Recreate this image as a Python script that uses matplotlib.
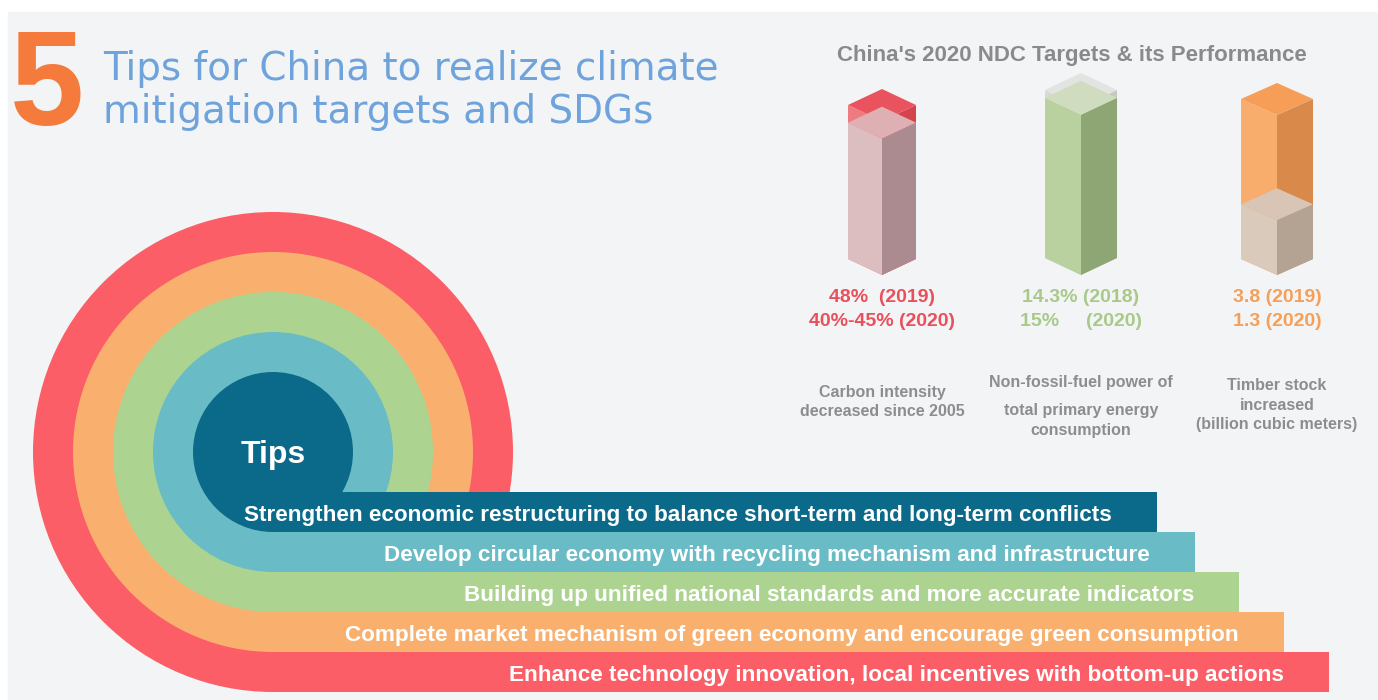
import numpy as np
import matplotlib.pyplot as plt
from matplotlib.patches import Circle, Rectangle, Polygon

# ---- data ----
tips = [
    "Strengthen economic restructuring to balance short-term and long-term conflicts",
    "Develop circular economy with recycling mechanism and infrastructure",
    "Building up unified national standards and more accurate indicators",
    "Complete market mechanism of green economy and encourage green consumption",
    "Enhance technology innovation, local incentives with bottom-up actions",
]
tip_colors = ["#0b6a8a", "#69bcc5", "#acd490", "#f9b06f", "#fb5e66"]

indicators = [
    ["Carbon intensity", "decreased since 2005"],
    ["Non-fossil-fuel power of", "total primary energy", "consumption"],
    ["Timber stock", "increased", "(billion cubic meters)"],
]
high_values = [48, 15, 3.8]      # taller prism
low_values = [42.5, 14.3, 1.3]   # shorter prism (40%-45% -> midpoint)
value_lines = [
    ["48%  (2019)", "40%-45% (2020)"],
    ["14.3% (2018)", "15%     (2020)"],
    ["3.8 (2019)", "1.3 (2020)"],
]
value_colors = ["#e8505b", "#a9c98b", "#f5a05a"]

# prism colours: (top, left, right) for tall and short prisms
tall_cols = [("#e9535d", "#ee7b80", "#d5434d"),
             ("#e2e4e1", "#d8dbd5", "#c6c9c3"),
             ("#f69e58", "#f9ad6d", "#d9894a")]
short_cols = [("#dfb0b3", "#dcbec1", "#ab8b8f"),
              ("#cfdcc0", "#b9d19f", "#8ea674"),
              ("#d8c5b6", "#dacabb", "#b4a393")]

# ---- canvas in pixel units ----
W, H = 1378, 700
fig = plt.figure(figsize=(W / 100, H / 100), dpi=100)
fig.patch.set_facecolor("white")
ax = fig.add_axes([0, 0, 1, 1])
ax.set_xlim(0, W)
ax.set_ylim(H, 0)
ax.axis("off")
ax.add_patch(Rectangle((8, 12), W - 8, H - 12, color="#f3f4f6", zorder=0))

bold = dict(family="Liberation Sans", fontweight="bold")

# title
ax.text(10, 125, "5", color="#f47b3b", fontsize=96, va="baseline", ha="left", **bold)
ax.text(103, 80, "Tips for China to realize climate", color="#6fa3dc",
        fontsize=28, family="DejaVu Sans", va="baseline")
ax.text(103, 123, "mitigation targets and SDGs", color="#6fa3dc",
        fontsize=28, family="DejaVu Sans", va="baseline")

# ---- rings + bars ----
cx, cy = 273, 452
bar_ends = [1157, 1195, 1239, 1284, 1329]
for i in range(len(tips) - 1, -1, -1):
    r = 80 + 40 * i
    ax.add_patch(Circle((cx, cy), r, color=tip_colors[i], lw=0, zorder=2))
    ax.add_patch(Rectangle((cx, cy + r - 40), bar_ends[i] - cx, 40,
                           color=tip_colors[i], lw=0, zorder=2))
for i, t in enumerate(tips):
    r = 80 + 40 * i
    ax.text(bar_ends[i] - 45, cy + r - 16, t, color="white", fontsize=16.2,
            ha="right", va="center", zorder=3, **bold)
ax.text(cx, cy + 3, "Tips", color="white", fontsize=23, ha="center", va="center",
        zorder=3, **bold)

# ---- 3D bars ----
ax.text(1072, 55, "China's 2020 NDC Targets & its Performance", color="#8a8a8a",
        fontsize=16, ha="center", va="center", **bold)

bar_x = [882, 1081, 1277]
half_w = [34, 36, 36]
rise = [16, 17, 16]
full_h = [154, 168, 160]
base = 275


def prism(x, yb, h, hw, dy, cols):
    top_c, left_c, right_c = cols
    fb, lb, rb = (x, yb), (x - hw, yb - dy), (x + hw, yb - dy)
    ft, lt, rt, bt = (x, yb - h), (x - hw, yb - h - dy), (x + hw, yb - h - dy), (x, yb - h - 2 * dy)
    ax.add_patch(Polygon([lb, fb, ft, lt], closed=True, color=left_c, lw=0, zorder=2))
    ax.add_patch(Polygon([fb, rb, rt, ft], closed=True, color=right_c, lw=0, zorder=2))
    ax.add_patch(Polygon([lt, ft, rt, bt], closed=True, color=top_c, lw=0, zorder=2))


for k in range(3):
    scale = full_h[k] / high_values[k]
    prism(bar_x[k], base, high_values[k] * scale, half_w[k], rise[k], tall_cols[k])
    prism(bar_x[k], base, low_values[k] * scale, half_w[k], rise[k], short_cols[k])
    for j, line in enumerate(value_lines[k]):
        ax.text(bar_x[k], 298 + 23 * j, line, color=value_colors[k], fontsize=14,
                ha="center", va="center", **bold)

desc_y = [[393, 412], [383, 410, 430], [385, 405, 424]]
for k in range(3):
    for j, line in enumerate(indicators[k]):
        ax.text(bar_x[k], desc_y[k][j], line, color="#8d8d8d", fontsize=11.5,
                ha="center", va="center", **bold)

fig.savefig("out.png", dpi=100, facecolor=fig.get_facecolor())
